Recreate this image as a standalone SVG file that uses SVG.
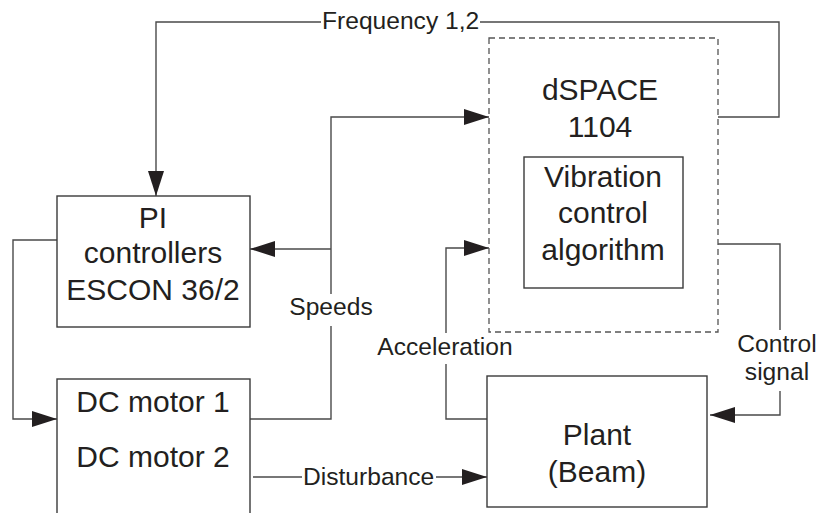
<svg xmlns="http://www.w3.org/2000/svg" width="824" height="513" viewBox="0 0 824 513">
<defs>
<marker id="arr" markerUnits="userSpaceOnUse" markerWidth="26" markerHeight="18" refX="25" refY="8" orient="auto">
<path d="M0,0 L25,8 L0,16 Z" fill="#231f20"/>
</marker>
<style>
.box{fill:none;stroke:#3a3a3a;stroke-width:1.4}
.dash{fill:none;stroke:#555;stroke-width:1.3;stroke-dasharray:6,4}
.ln{fill:none;stroke:#4a4a4a;stroke-width:1.4}
.t{font-family:"Liberation Sans",Arial,sans-serif;font-size:30px;fill:#231f20;text-anchor:middle}
.l{font-family:"Liberation Sans",Arial,sans-serif;font-size:24.6px;fill:#231f20}
</style>
</defs>
<rect width="824" height="513" fill="#fff"/>
<g id="connectors">
<polyline class="ln" points="321,22 156,22 156,196" marker-end="url(#arr)"/>
<polyline class="ln" points="480,22 779,22 779,117 718,117"/>
<polyline class="ln" points="250,419 331,419 331,326"/>
<polyline class="ln" points="331,294 331,117 489,117" marker-end="url(#arr)"/>
<line class="ln" x1="331" y1="249" x2="250" y2="249" marker-end="url(#arr)"/>
<polyline class="ln" points="57,240 13,240 13,419 57,419" marker-end="url(#arr)"/>
<polyline class="ln" points="487,419 446,419 446,364"/>
<polyline class="ln" points="446,333 446,248 489,248" marker-end="url(#arr)"/>
<polyline class="ln" points="718,244 780,244 780,330"/>
<polyline class="ln" points="780,391 780,415 710,415" marker-end="url(#arr)"/>
<line class="ln" x1="253" y1="477" x2="302" y2="477"/>
<line class="ln" x1="436" y1="477" x2="487" y2="477" marker-end="url(#arr)"/>
<text class="l" x="322" y="29">Frequency 1,2</text>
<text class="l" x="331" y="315" text-anchor="middle">Speeds</text>
<text class="l" x="445" y="355" text-anchor="middle">Acceleration</text>
<text class="l" x="777" y="352" text-anchor="middle">Control</text>
<text class="l" x="777" y="380" text-anchor="middle">signal</text>
<text class="l" x="303" y="485">Disturbance</text>
</g>
<g id="pi">
<rect class="box" x="57" y="196" width="193" height="131"/>
<text class="t" x="153" y="228">PI</text>
<text class="t" x="153" y="263">controllers</text>
<text class="t" x="153" y="300">ESCON 36/2</text>
</g>
<g id="dcmotor">
<rect class="box" x="57" y="379" width="193" height="150"/>
<text class="t" x="153" y="412">DC motor 1</text>
<text class="t" x="153" y="467">DC motor 2</text>
</g>
<g id="dspace">
<rect class="dash" x="489" y="38" width="229" height="294"/>
<text class="t" x="600" y="100">dSPACE</text>
<text class="t" x="600" y="137">1104</text>
</g>
<g id="algorithm">
<rect class="box" x="524" y="157" width="159" height="131"/>
<text class="t" x="603" y="187">Vibration</text>
<text class="t" x="603" y="223">control</text>
<text class="t" x="603" y="260">algorithm</text>
</g>
<g id="plant">
<rect class="box" x="487" y="376" width="220" height="131"/>
<text class="t" x="597" y="445">Plant</text>
<text class="t" x="597" y="482">(Beam)</text>
</g>
</svg>
